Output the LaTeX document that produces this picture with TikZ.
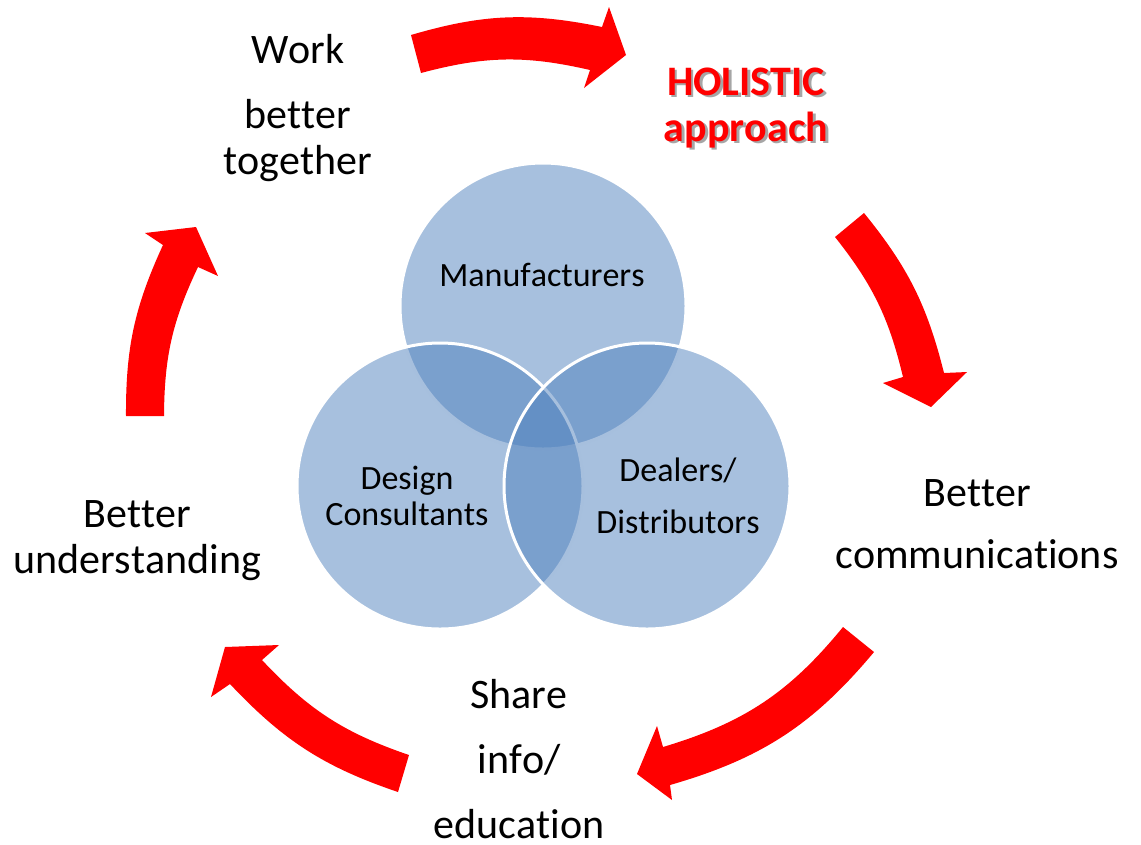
\documentclass[tikz,border=0pt]{standalone}
\usepackage{fontspec}
\setmainfont{Carlito}[Kerning=Off, Ligatures=NoCommon]
\definecolor{cyclered}{HTML}{FF0000}
\definecolor{vennblue}{HTML}{4F81BD}
\newcommand{\shadowtext}[1]{\rlap{\kern1.9pt\raisebox{-1.9pt}{\textcolor{black!35}{#1}}}#1}
\tikzset{
    cyclearrow/.style={fill=cyclered},
    venn/.style={fill=vennblue, fill opacity=0.5, draw=white, line width=2.25pt},
    steplabel/.style={font=\fontsize{31.5}{34.5}\selectfont, align=center, inner sep=0pt},
    vennlabel/.style={font=\fontsize{25.5}{27}\selectfont, align=center, inner sep=0pt},
}
\begin{document}
\begin{tikzpicture}[x=0.75pt, y=0.75pt]
        \useasboundingbox (0,0) rectangle (1141,-844);

        % venn circles
        \filldraw[venn] (543,-306) circle (143);
        \filldraw[venn] (440,-486) circle (143);
        \filldraw[venn] (647,-486) circle (143);

        \node[vennlabel] (manu) at (542,-275) {Manufacturers};
        \node[vennlabel] (design) at (407,-496) {Design\\Consultants};
        \node[vennlabel] (dealers) at (678,-496) {Dealers/\\[12pt]Distributors};

        % cycle arrows
        \fill[cyclearrow] (411,-35) to[bend left=14] (602,-27) -- (609,-7) -- (626,-55)
            -- (584,-88) -- (590,-70) to[bend right=14] (421,-73) -- cycle;
        \fill[cyclearrow] (864,-213) to[bend left=12.5] (944,-373) -- (967,-372) -- (931,-407)
            -- (883,-383) -- (903,-377) to[bend right=12.5] (835,-237) -- cycle;
        \fill[cyclearrow] (874,-652) to[bend left=17] (670,-785) -- (672,-800) -- (637,-774)
            -- (657,-726) -- (663,-747) to[bend right=17] (843,-627) -- cycle;
        \fill[cyclearrow] (398,-792) to[bend left=14] (230,-684) -- (211,-697) -- (225,-647)
            -- (279,-645) -- (262,-660) to[bend right=14] (409,-755) -- cycle;
        \fill[cyclearrow] (126,-416) to[bend left=12.5] (163,-245) -- (145,-233) -- (196,-227)
            -- (218,-276) -- (198,-267) to[bend right=12.5] (164,-416) -- cycle;

        % step labels
        \node[steplabel] (work) at (298,-108) {Work\\[14.25pt]better\\together};
        \node[steplabel, text=cyclered, font=\fontsize{31.5}{34.5}\selectfont\bfseries] (holistic) at (746,-109) {\shadowtext{HOLISTIC}\\\shadowtext{approach}};
        \node[steplabel] (comm) at (977,-524) {Better\\[12pt]communications};
        \node[steplabel] (share) at (519,-759) {Share\\[14.25pt]info/\\[14.25pt]education};
        \node[steplabel] (under) at (137,-541) {Better\\understanding};
\end{tikzpicture}
\end{document}
